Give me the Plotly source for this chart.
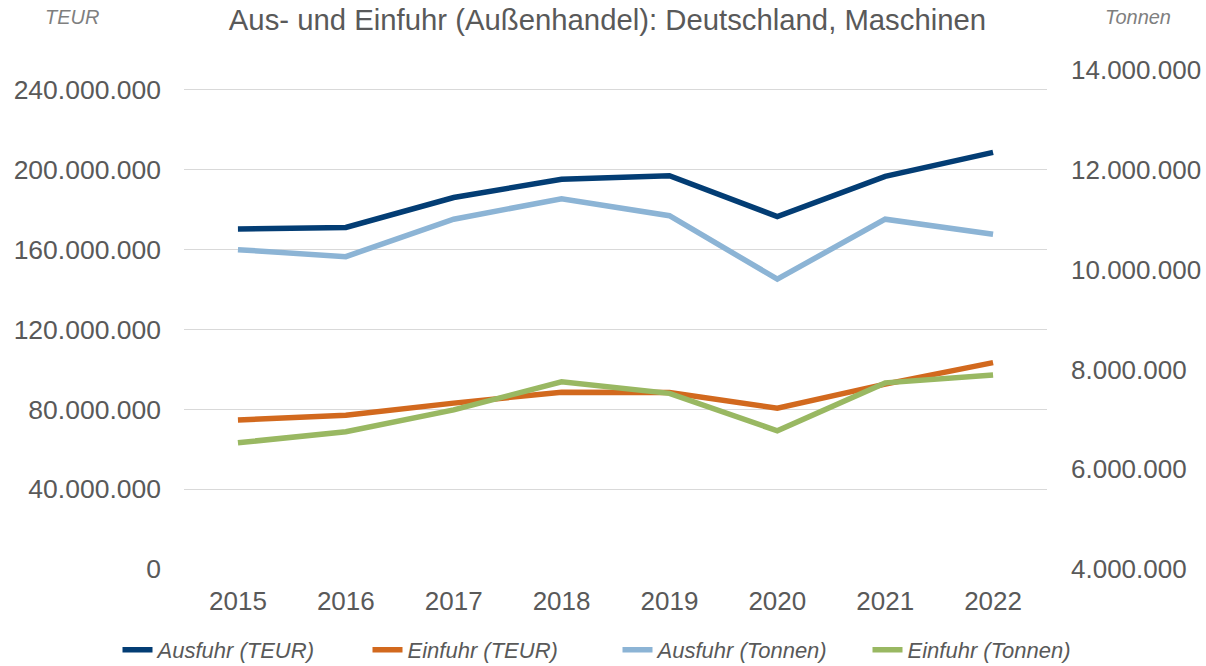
import plotly.graph_objects as go

years = ["2015", "2016", "2017", "2018", "2019", "2020", "2021", "2022"]
ausfuhr_teur = [170.4e6, 171.1e6, 186.1e6, 195.3e6, 197.0e6, 176.6e6, 196.7e6, 208.7e6]
einfuhr_teur = [74.7e6, 77.0e6, 83.1e6, 88.6e6, 88.4e6, 80.6e6, 92.6e6, 103.4e6]
ausfuhr_tonnen = [10.40e6, 10.26e6, 11.01e6, 11.42e6, 11.08e6, 9.81e6, 11.01e6, 10.71e6]
einfuhr_tonnen = [6.53e6, 6.75e6, 7.19e6, 7.75e6, 7.52e6, 6.77e6, 7.73e6, 7.89e6]

left_ticks = [0, 40e6, 80e6, 120e6, 160e6, 200e6, 240e6]
right_ticks = [4e6, 6e6, 8e6, 10e6, 12e6, 14e6]

C_DARK = "#033D74"
C_ORANGE = "#D2691E"
C_LIGHT = "#8CB4D5"
C_GREEN = "#99B862"
TXT = "#595959"

fig = go.Figure()
fig.add_trace(go.Scatter(x=years, y=ausfuhr_teur, name="Ausfuhr (TEUR)", mode="lines",
                         line=dict(color=C_DARK, width=5.5), yaxis="y"))
fig.add_trace(go.Scatter(x=years, y=einfuhr_teur, name="Einfuhr (TEUR)", mode="lines",
                         line=dict(color=C_ORANGE, width=5.5), yaxis="y"))
fig.add_trace(go.Scatter(x=years, y=ausfuhr_tonnen, name="Ausfuhr (Tonnen)", mode="lines",
                         line=dict(color=C_LIGHT, width=5.5), yaxis="y2"))
fig.add_trace(go.Scatter(x=years, y=einfuhr_tonnen, name="Einfuhr (Tonnen)", mode="lines",
                         line=dict(color=C_GREEN, width=5.5), yaxis="y2"))

font_family = "Liberation Sans, Arial, sans-serif"

fig.update_layout(
    width=1206, height=666,
    margin=dict(l=184, r=159, t=70, b=97, autoexpand=False),
    paper_bgcolor="white", plot_bgcolor="white",
    separators=",.",
    font=dict(family=font_family, color=TXT, size=26),
    title=dict(text="Aus- und Einfuhr (Außenhandel): Deutschland, Maschinen",
               x=0.5037, xanchor="center", y=1 - 20 / 666, yanchor="middle",
               xref="container", yref="container",
               font=dict(family=font_family, size=29.3, color=TXT)),
    xaxis=dict(type="category", range=[-0.5, 7.5], showgrid=False, showline=False,
               zeroline=False, ticks="", tickfont=dict(size=26, color=TXT),
               ticklabelstandoff=14, automargin=False),
    yaxis=dict(range=[0, 250e6], tickvals=left_ticks, tickformat=",.0f",
               showgrid=True, gridcolor="#D9D9D9", gridwidth=1.3, zeroline=False,
               showline=False, ticks="", tickfont=dict(size=26.5, color=TXT),
               ticklabelstandoff=22, automargin=False),
    yaxis2=dict(range=[4e6, 14e6], tickvals=right_ticks, tickformat=",.0f",
                overlaying="y", side="right", showgrid=False, zeroline=False,
                showline=False, ticks="", tickfont=dict(size=26, color=TXT),
                ticklabelstandoff=23, automargin=False),
    showlegend=True,
    legend=dict(orientation="h", xref="paper", yref="paper",
                x=(117.5 - 184) / 863, xanchor="left", y=-(629 - 569) / 499, yanchor="top",
                font=dict(family=font_family, size=22, color=TXT, style="italic"),
                itemwidth=30, entrywidth=205, entrywidthmode="pixels",
                tracegroupgap=0, bgcolor="rgba(0,0,0,0)"),
    annotations=[
        dict(text="TEUR", xref="paper", yref="paper",
             x=(72 - 184) / 863, y=(569 - 17) / 499, xanchor="center", yanchor="middle",
             showarrow=False, font=dict(family=font_family, size=20, color="#7F7F7F", style="italic")),
        dict(text="Tonnen", xref="paper", yref="paper",
             x=(1138 - 184) / 863, y=(569 - 17) / 499, xanchor="center", yanchor="middle",
             showarrow=False, font=dict(family=font_family, size=20, color="#7F7F7F", style="italic")),
    ],
)

fig.write_html("out.html", config={"displayModeBar": False},
               post_script="document.body.style.margin='0';")
